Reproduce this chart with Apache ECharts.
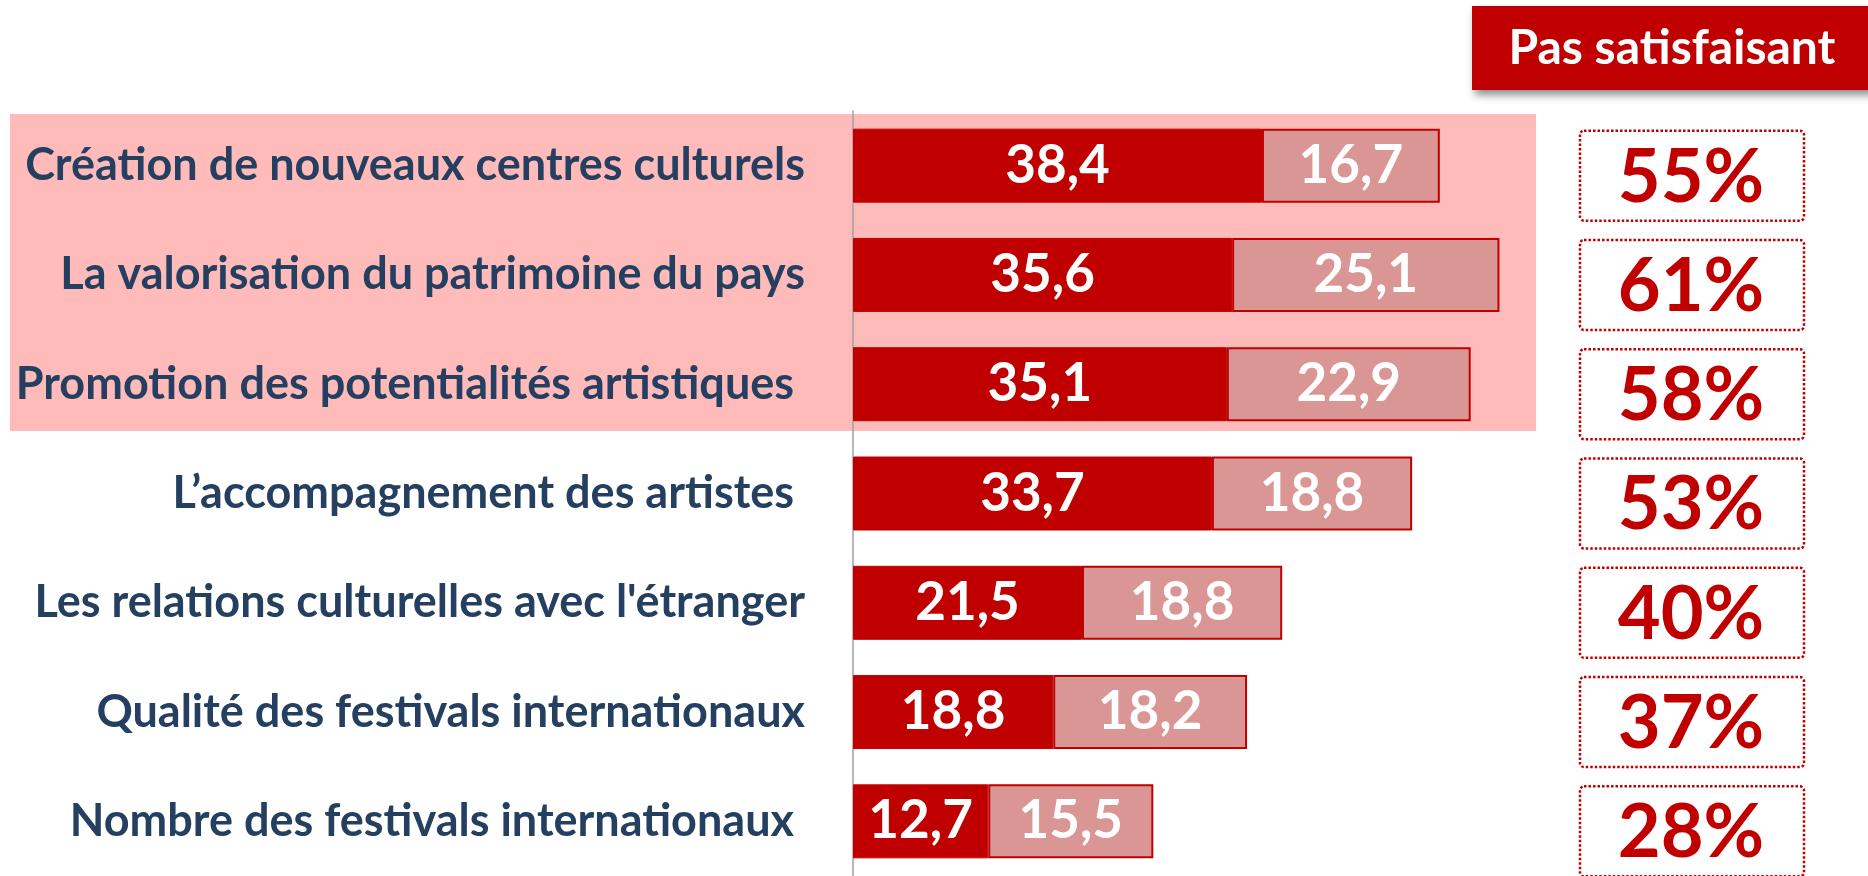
<!DOCTYPE html>
<html>
<head>
<meta charset="utf-8">
<script src="https://cdn.jsdelivr.net/npm/echarts@6/dist/echarts.min.js"></script>
<style>
  html, body { margin: 0; padding: 0; background: #fff; }
  #main { width: 1868px; height: 876px; }
</style>
</head>
<body>
<div id="main"></div>
<script>
// données
const categories = [
  'Création de nouveaux centres culturels',
  'La valorisation du patrimoine du pays',
  'Promotion des potentialités artistiques ',
  'L’accompagnement des artistes ',
  "Les relations culturelles avec l'étranger",
  'Qualité des festivals internationaux',
  'Nombre des festivals internationaux '
];
const pasDuTout = [38.4, 35.6, 35.1, 33.7, 21.5, 18.8, 12.7];
const peu = [16.7, 25.1, 22.9, 18.8, 18.8, 18.2, 15.5];
const pasSatisfaisant = [55, 61, 58, 53, 40, 37, 28];

// pas de Calibri ici : Lato (humaniste, assez étroite) s'en rapproche
const FONT = 'Lato, "Open Sans", sans-serif';
const ctx = document.createElement('canvas').getContext('2d');

// taille de police : largeur et hauteur de capitale visées (px)
function fitSize(text, width, capH, glyph) {
  ctx.font = 'bold 100px ' + FONT;
  const w = ctx.measureText(text).width;
  const h = ctx.measureText(glyph || 'H').actualBoundingBoxAscent;
  return Math.round(Math.min(100 * width / w, 100 * capH / h));
}
const catSize = fitSize(categories[0], 775, 32.5);
const valSize = fitSize('38,4', 112, 39, '0');
const pctSize = fitSize('55%', 146, 58, '0');
const headSize = fitSize('Pas satisfaisant', 331, 35);

const fmt = v => v.toFixed(1).replace('.', ',');

const chart = echarts.init(document.getElementById('main'));

const option = {
  animation: false,
  textStyle: { fontFamily: FONT },
  grid: { left: 853, top: 111, width: 745.5, height: 770 },
  xAxis: { type: 'value', min: 0, max: 70, show: false },
  yAxis: {
    type: 'category',
    inverse: true,
    data: categories,
    axisLine: { lineStyle: { color: '#A0A0A0', width: 1.5 } },
    axisTick: { show: false },
    axisLabel: {
      margin: 48,
      color: '#243F60',
      fontWeight: 'bold',
      fontSize: catSize,
      fontFamily: FONT
    }
  },
  graphic: [
    {
      type: 'rect', z: -10, silent: true,
      shape: { x: 10, y: 114, width: 1526, height: 317 },
      style: { fill: '#FFBABA' }
    },
    {
      type: 'rect', z: 10,
      shape: { x: 1472, y: 6, width: 400, height: 84 },
      style: {
        fill: '#C00000',
        shadowBlur: 8, shadowColor: 'rgba(0,0,0,0.45)',
        shadowOffsetX: 3, shadowOffsetY: 5
      }
    },
    {
      type: 'text', z: 11,
      style: {
        x: 1672, y: 49, text: 'Pas satisfaisant',
        fill: '#fff', font: 'bold ' + headSize + 'px ' + FONT,
        align: 'center', verticalAlign: 'middle'
      }
    }
  ],
  series: [
    {
      name: 'Pas du tout satisfaisant',
      type: 'bar',
      stack: 'total',
      barWidth: 74,
      data: pasDuTout,
      itemStyle: { color: '#C00000', borderColor: '#C00000', borderWidth: 1 },
      label: {
        show: true, position: 'inside', color: '#fff',
        fontWeight: 'bold', fontSize: valSize, fontFamily: FONT,
        formatter: p => fmt(p.value)
      }
    },
    {
      name: 'Peu satisfaisant',
      type: 'bar',
      stack: 'total',
      barWidth: 74,
      data: peu,
      itemStyle: { color: '#D99694', borderColor: '#C00000', borderWidth: 2 },
      label: {
        show: true, position: 'inside', color: '#fff',
        fontWeight: 'bold', fontSize: valSize, fontFamily: FONT,
        formatter: p => fmt(p.value)
      }
    },
    {
      // cadres pointillés avec le total "pas satisfaisant"
      name: 'Pas satisfaisant',
      type: 'custom',
      clip: false,
      data: pasSatisfaisant.map((v, i) => [v, i]),
      encode: { x: 0, y: 1 },
      renderItem: function (params, api) {
        const y = api.coord([0, api.value(1)])[1] + 10;
        return {
          type: 'group',
          children: [
            {
              type: 'rect',
              shape: { x: 1580, y: y - 45, width: 224, height: 90, r: 4 },
              style: { fill: '#fff', stroke: '#C00000', lineWidth: 2.5, lineDash: [2.5, 2] }
            },
            {
              type: 'text',
              style: {
                x: 1691, y: y + 2, text: api.value(0) + '%',
                fill: '#C00000', font: 'bold ' + pctSize + 'px ' + FONT,
                align: 'center', verticalAlign: 'middle'
              }
            }
          ]
        };
      }
    }
  ]
};

chart.setOption(option);
</script>
</body>
</html>
